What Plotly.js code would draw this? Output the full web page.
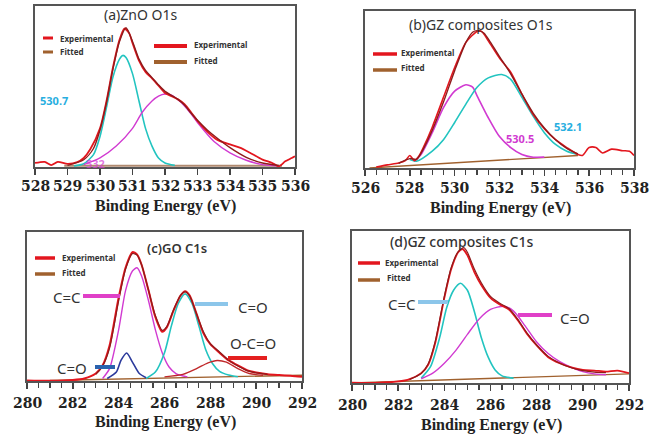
<!DOCTYPE html>
<html>
<head>
<meta charset="utf-8">
<script src="https://cdn.plot.ly/plotly-3.0.1.min.js"></script>
<style>
  html, body { margin: 0; padding: 0; background: #fff; }
  #chart { width: 662px; height: 435px; }
</style>
</head>
<body>
<div id="chart"></div>
<script>
// ---------- (a) ZnO O1s ----------
const aTicks = [528, 529, 530, 531, 532, 533, 534, 535, 536];
const aPeaks = [530.7, 532];
const aExpX = [528, 528.3, 528.5, 528.7, 529, 529.3, 529.5, 529.7, 530, 530.2, 530.4, 530.6, 530.75, 530.9, 531, 531.2, 531.4, 531.6, 531.8, 532, 532.2, 532.4, 532.6, 532.8, 533, 533.3, 533.6, 534, 534.3, 534.6, 535, 535.3, 535.5, 535.7, 535.9, 536];
const aExpY = [2.5, 3.2, 1.2, 3.2, 2, 3, 5.6, 11, 24, 41, 62, 79, 86, 83, 77, 66, 59, 55, 50.5, 46, 44, 42, 39, 34, 28.6, 22, 17, 14, 12, 9, 4.6, 2.5, 0.4, 3.5, 5.6, 6.7];
const aFitX = [529, 529.5, 529.8, 530, 530.2, 530.4, 530.6, 530.8, 531, 531.2, 531.4, 531.6, 531.8, 532, 532.2, 532.4, 532.6, 532.8, 533, 533.3, 533.6, 534, 534.5, 535, 535.5];
const aFitY = [1, 4.5, 11.5, 23, 40, 61, 78, 86.5, 78, 67, 60, 55.5, 51, 47, 44.5, 42, 38.5, 33.5, 29, 23, 18, 12, 6, 2.5, 1];
const aBgX = [528.9, 535.6];
const aBgY = [0.8, 0.8];
const aCyanX = [529.2, 529.5, 529.8, 530, 530.2, 530.4, 530.6, 530.7, 530.8, 531, 531.2, 531.4, 531.6, 531.8, 532, 532.3];
const aCyanY = [0.6, 2, 7.7, 19, 37, 56, 67, 69.3, 68, 58, 41, 24, 13, 5.6, 2.5, 1];
const aMagX = [529.5, 530, 530.5, 531, 531.3, 531.6, 531.8, 532, 532.2, 532.5, 532.8, 533, 533.5, 534, 534.5, 535, 535.5];
const aMagY = [1.5, 5.6, 13, 24, 34, 41, 44, 45.3, 44.7, 40, 33, 27.6, 16, 8.8, 4.2, 1.5, 0.6];

// ---------- (b) GZ composites O1s ----------
const bTicks = [526, 528, 530, 532, 534, 536, 538];
const bPeaks = [530.5, 532.1];
const bExpX = [526.5, 527, 527.5, 527.8, 528, 528.2, 528.4, 528.6, 529, 529.5, 530, 530.5, 531, 531.2, 531.5, 532, 532.5, 533, 533.5, 534, 534.5, 535, 535.5, 535.7, 536, 536.3, 536.6, 537, 537.5, 537.8, 538];
const bExpY = [0.6, 2, 3.2, 4.7, 8, 4.7, 7.5, 13, 26, 45, 64, 80, 87, 87, 81, 70, 61, 47, 34, 25, 18, 13, 8.6, 8, 13, 13, 9.6, 12, 11, 10.7, 8];
const bFitX = [527.5, 528, 528.3, 528.6, 529, 529.5, 530, 530.5, 530.8, 531, 531.3, 531.6, 532, 532.5, 533, 533.5, 534, 534.5, 535, 535.5];
const bFitY = [3, 6, 5.5, 12, 24, 42, 62, 80, 86.5, 87.5, 86, 80, 71, 60, 47, 35, 25.5, 18, 12.5, 9];
const bBgX = [526.2, 535.5];
const bBgY = [0, 8];
const bMagX = [528.2, 528.5, 529, 529.5, 530, 530.5, 530.8, 531, 531.5, 532, 532.5, 533, 533.5, 534];
const bMagY = [4.3, 8.6, 22.5, 38.5, 49, 53, 51.5, 46, 32, 20, 13, 8.6, 6.9, 6.9];
const bCyanX = [528, 528.3, 529, 529.5, 530, 530.5, 531, 531.5, 532.1, 532.5, 533, 533.5, 534, 534.5, 535, 535.5];
const bCyanY = [5.4, 4.3, 10.7, 18, 29, 40.7, 51.4, 57.4, 59.5, 56.5, 45, 33, 22.5, 15, 10.7, 8.6];

// ---------- (c) GO C1s and (d) GZ composites C1s share the C1s energy window ----------
const cdTicks = [280, 282, 284, 286, 288, 290, 292];
const cExpX = [280, 281, 282, 282.5, 283, 283.3, 283.6, 284, 284.3, 284.6, 284.8, 285, 285.3, 285.6, 285.9, 286.1, 286.4, 286.7, 286.9, 287.1, 287.4, 287.7, 288, 288.4, 288.8, 289.2, 289.6, 290, 290.5, 291, 291.5, 292];
const cExpY = [0.4, 0.2, 0.7, 1.7, 5, 10.5, 23.6, 56, 76, 86.5, 85, 78, 61, 43, 33, 36, 47.6, 57.4, 60.3, 57.4, 45, 32, 24.7, 19, 13.8, 10.5, 7.2, 5.7, 4.6, 4, 3.5, 2.8];
const cFitX = [283, 283.3, 283.6, 284, 284.3, 284.6, 284.8, 285, 285.3, 285.6, 285.9, 286.1, 286.4, 286.7, 286.9, 287.1, 287.4, 287.7, 288, 288.4, 288.8, 289.2, 289.6, 290, 290.5];
const cFitY = [4.5, 10, 22, 54, 75, 85.5, 84.5, 78, 61, 44, 34, 36.5, 48, 57.5, 59.8, 57, 45, 33, 25, 19.5, 14, 10, 7, 5.5, 4.5];
const cBgX = [281, 292];
const cBgY = [0.3, 3.9];
const cCCX = [283.3, 283.6, 284, 284.3, 284.6, 284.8, 285, 285.3, 285.6, 285.9, 286.2, 286.5, 287];
const cCCY = [1.7, 8.3, 34.5, 60.7, 73.8, 76, 70.5, 54, 34.5, 19, 9.4, 5, 2.8];
const cCOlowX = [283.5, 283.9, 284.1, 284.35, 284.6, 284.9, 285.2];
const cCOlowY = [1.7, 6, 13.8, 18.8, 12.7, 5, 2.2];
const cCOX = [285.2, 285.6, 286, 286.3, 286.6, 286.9, 287.2, 287.5, 287.8, 288.1, 288.4, 288.8, 289.2];
const cCOY = [1.7, 6, 19, 37, 52, 58.5, 52, 37, 21, 11.6, 6.5, 4, 2.8];
const cOCOX = [286, 286.8, 287.4, 287.9, 288.3, 288.7, 289.2, 289.7, 290.3];
const cOCOY = [2.8, 4.4, 8.3, 12.2, 13.8, 12.7, 8.3, 5, 3.9];

const dExpX = [280, 281, 282, 282.5, 283, 283.3, 283.6, 284, 284.3, 284.6, 284.8, 285, 285.3, 285.6, 286, 286.4, 286.8, 287.2, 287.6, 288, 288.5, 289, 289.5, 290, 290.5, 291, 291.5, 292];
const dExpY = [0.2, 0.1, 1, 2.6, 6.5, 12, 26, 56, 75, 86, 88, 84, 73, 64.5, 56, 51.6, 48.4, 41, 32, 24.7, 17, 13, 10.3, 8.6, 8.2, 7.5, 8.2, 6.5];
const dFitX = [282.5, 283, 283.3, 283.6, 284, 284.3, 284.6, 284.85, 285, 285.3, 285.6, 286, 286.4, 286.8, 287.2, 287.6, 288, 288.5, 289, 289.5, 290, 290.5, 291];
const dFitY = [2.4, 6.3, 12.5, 27, 57, 76, 86.5, 89, 86, 75, 66, 57, 52.5, 49, 41.5, 32.5, 25, 17.5, 13, 10, 8.2, 7.2, 6.8];
const dBgX = [280, 292];
const dBgY = [0, 6];
const dCCX = [283, 283.4, 283.8, 284.1, 284.4, 284.7, 285, 285.3, 285.6, 285.9, 286.2, 286.5, 287];
const dCCY = [3.2, 10.7, 30, 49.5, 61, 65.6, 61, 47, 30, 17, 8.6, 4.7, 3.2];
const dCOX = [283, 283.5, 284, 284.5, 285, 285.5, 286, 286.6, 287, 287.5, 288, 288.5, 289, 289.5, 290, 290.5, 291];
const dCOY = [2.8, 6.5, 13, 21.5, 32, 42, 48.4, 50.5, 47.3, 37.6, 27, 19.4, 14, 10.3, 7.5, 6, 5.4];

// ---------- styling ----------
const W = 662, H = 435;
const px = x => x / W;
const py = y => 1 - y / H;

const RED = '#e3161e';
const DARK = '#8e1b1b';
const BROWN = '#a0612e';
const CYAN = '#22c4c0';
const MAG = '#d13ad1';
const BLUE = '#2b3a9c';
const SKY = '#27aee0';
const SERIF = 'Liberation Serif';

function line(x, y, color, width, xa, ya) {
  return { x: x, y: y, type: 'scatter', mode: 'lines', xaxis: xa, yaxis: ya,
           line: { color: color, width: width, shape: 'spline', smoothing: 0.7 },
           hoverinfo: 'skip', showlegend: false };
}

const traces = [
  line(aBgX, aBgY, '#b08a70', 2, 'x', 'y'),
  line(aCyanX, aCyanY, CYAN, 1.6, 'x', 'y'),
  line(aMagX, aMagY, MAG, 1.4, 'x', 'y'),
  line(aExpX, aExpY, RED, 1.8, 'x', 'y'),
  line(aFitX, aFitY, DARK, 1.4, 'x', 'y'),
  line(bBgX, bBgY, BROWN, 1.4, 'x2', 'y2'),
  line(bMagX, bMagY, MAG, 1.6, 'x2', 'y2'),
  line(bCyanX, bCyanY, CYAN, 1.6, 'x2', 'y2'),
  line(bExpX, bExpY, RED, 1.6, 'x2', 'y2'),
  line(bFitX, bFitY, DARK, 1.4, 'x2', 'y2'),
  line(cBgX, cBgY, BROWN, 1.4, 'x3', 'y3'),
  line(cCCX, cCCY, MAG, 1.4, 'x3', 'y3'),
  line(cCOlowX, cCOlowY, BLUE, 1.6, 'x3', 'y3'),
  line(cCOX, cCOY, CYAN, 1.6, 'x3', 'y3'),
  line(cOCOX, cOCOY, '#c0282a', 1.4, 'x3', 'y3'),
  line(cExpX, cExpY, RED, 2, 'x3', 'y3'),
  line(cFitX, cFitY, DARK, 1.2, 'x3', 'y3'),
  line(dBgX, dBgY, BROWN, 1.4, 'x4', 'y4'),
  line(dCCX, dCCY, CYAN, 1.6, 'x4', 'y4'),
  line(dCOX, dCOY, MAG, 1.4, 'x4', 'y4'),
  line(dExpX, dExpY, RED, 1.8, 'x4', 'y4'),
  line(dFitX, dFitY, DARK, 1.2, 'x4', 'y4')
];

// Tick marks come from the axes; their numbers are drawn as serif-bold text at the tick values.
function xAxis(range, ticks, minor, xdom, anchor) {
  const ax = {
    domain: [px(xdom[0]), px(xdom[1])], anchor: anchor, range: range,
    tickmode: 'array', tickvals: ticks, showticklabels: false,
    ticks: 'outside', ticklen: 6, tickwidth: 1.5, tickcolor: '#444',
    showline: true, mirror: true, linecolor: '#555', linewidth: 2,
    showgrid: false, zeroline: false, fixedrange: true
  };
  if (minor) ax.minor = { dtick: minor, tick0: range[0], ticks: 'outside', ticklen: 5, tickwidth: 1.2, tickcolor: '#444', showgrid: false };
  return ax;
}
function yAxis(ydom, anchor) {
  return {
    domain: [py(ydom[1]), py(ydom[0])], anchor: anchor, range: [0, 100],
    showline: true, mirror: true, linecolor: '#555', linewidth: 2,
    showticklabels: false, ticks: '', showgrid: false, zeroline: false, fixedrange: true
  };
}

function txt(text, x, y, font, opts) {
  return Object.assign({
    text: text, xref: 'paper', yref: 'paper', x: px(x), y: py(y),
    xanchor: 'center', yanchor: 'middle', showarrow: false,
    font: Object.assign({ family: 'Noto Sans', size: 14, color: '#333', weight: 'normal' }, font || {})
  }, opts || {});
}
const legFont = { size: 8, weight: 'bold' };
const serifBold = { family: SERIF, size: 16, color: '#222', weight: 'bold' };
const tickNumFont = { family: 'DejaVu Serif', size: 14, color: '#222', weight: 'bold' };
const labFont = c => ({ size: 11, color: c, weight: 'bold' });
const bondFont = { size: 15 };
const left = { xanchor: 'left' };

function tickLabels(ticks, xref, y) {
  return ticks.map(t => txt(String(t), 0, y, tickNumFont, { xref: xref, x: t }));
}

function bar(x0, x1, y, color, w) {
  return { type: 'line', xref: 'paper', yref: 'paper', x0: px(x0), x1: px(x1), y0: py(y), y1: py(y),
           line: { color: color, width: w } };
}

const annotations = [].concat(
  tickLabels(aTicks, 'x', 186),
  tickLabels(bTicks, 'x2', 188),
  tickLabels(cdTicks, 'x3', 403),
  tickLabels(cdTicks, 'x4', 405),
  [
    txt('Binding Energy (eV)', 165, 206, serifBold),
    txt('Binding Energy (eV)', 500, 208, serifBold),
    txt('Binding Energy (eV)', 165, 422, serifBold),
    txt('Binding Energy (eV)', 491, 425, serifBold),
    txt('(a)ZnO O1s', 140, 15),
    txt('(b)GZ composites O1s', 481, 24),
    txt('(c)GO C1s', 177, 248, { size: 13, weight: 600 }),
    txt('(d)GZ composites C1s', 462, 242, { weight: 500 }),
    txt('Experimental', 58, 38, legFont, left),
    txt('Fitted', 58, 51, legFont, left),
    txt('Experimental', 192, 45, legFont, left),
    txt('Fitted', 192, 61, legFont, left),
    txt('Experimental', 399, 53, legFont, left),
    txt('Fitted', 399, 67, legFont, left),
    txt('Experimental', 60, 257, legFont, left),
    txt('Fitted', 60, 272, legFont, left),
    txt('Experimental', 383, 262, legFont, left),
    txt('Fitted', 385, 277, legFont, left),
    txt(String(aPeaks[0]), 54, 101, labFont(SKY)),
    txt(String(aPeaks[1]), 95, 163, labFont('rgba(214,60,214,0.7)')),
    txt(bPeaks[0].toFixed(1), 520, 138, labFont(MAG)),
    txt(bPeaks[1].toFixed(1), 568, 126, labFont(SKY)),
    txt('C=C', 67, 297, bondFont),
    txt('C=O', 253, 307, bondFont),
    txt('O-C=O', 253, 343, bondFont),
    txt('C=O', 72, 368, bondFont),
    txt('C=C', 402, 304, bondFont),
    txt('C=O', 575, 318, bondFont)
  ]
);

const shapes = [
  bar(43, 53, 38, RED, 3), bar(43, 53, 52, BROWN, 3),
  bar(154, 187, 46, RED, 4), bar(154, 187, 62, BROWN, 4),
  bar(373, 397, 54, RED, 3.5), bar(373, 397, 70, BROWN, 3.5),
  bar(35, 55, 258, RED, 3.5), bar(35, 55, 274, BROWN, 3.5),
  bar(358, 380, 263, RED, 3.5), bar(358, 380, 280, BROWN, 3.5),
  bar(83, 120, 296, '#e040c8', 4), bar(195, 228, 304, '#8cc6ea', 4),
  bar(228, 267, 358, '#e42020', 4), bar(95, 115, 367, '#2a62ae', 4),
  bar(418, 448, 302, '#8cc6ea', 4), bar(518, 552, 315, '#e040c8', 4)
];

const layout = {
  width: W, height: H,
  margin: { l: 0, r: 0, t: 0, b: 0 },
  paper_bgcolor: '#fff', plot_bgcolor: '#fff',
  showlegend: false,
  xaxis: xAxis([528, 536], aTicks, null, [35, 295], 'y'),
  yaxis: yAxis([6, 167], 'x'),
  xaxis2: xAxis([526, 538], bTicks, 0.5, [365, 634], 'y2'),
  yaxis2: yAxis([11, 168], 'x2'),
  xaxis3: xAxis([280, 292], cdTicks, 0.5, [27, 302], 'y3'),
  yaxis3: yAxis([232, 381], 'x3'),
  xaxis4: xAxis([280, 292], cdTicks, 0.5, [352, 629], 'y4'),
  yaxis4: yAxis([231, 383], 'x4'),
  annotations: annotations,
  shapes: shapes
};

Plotly.newPlot('chart', traces, layout, { staticPlot: true, displayModeBar: false });
</script>
</body>
</html>
